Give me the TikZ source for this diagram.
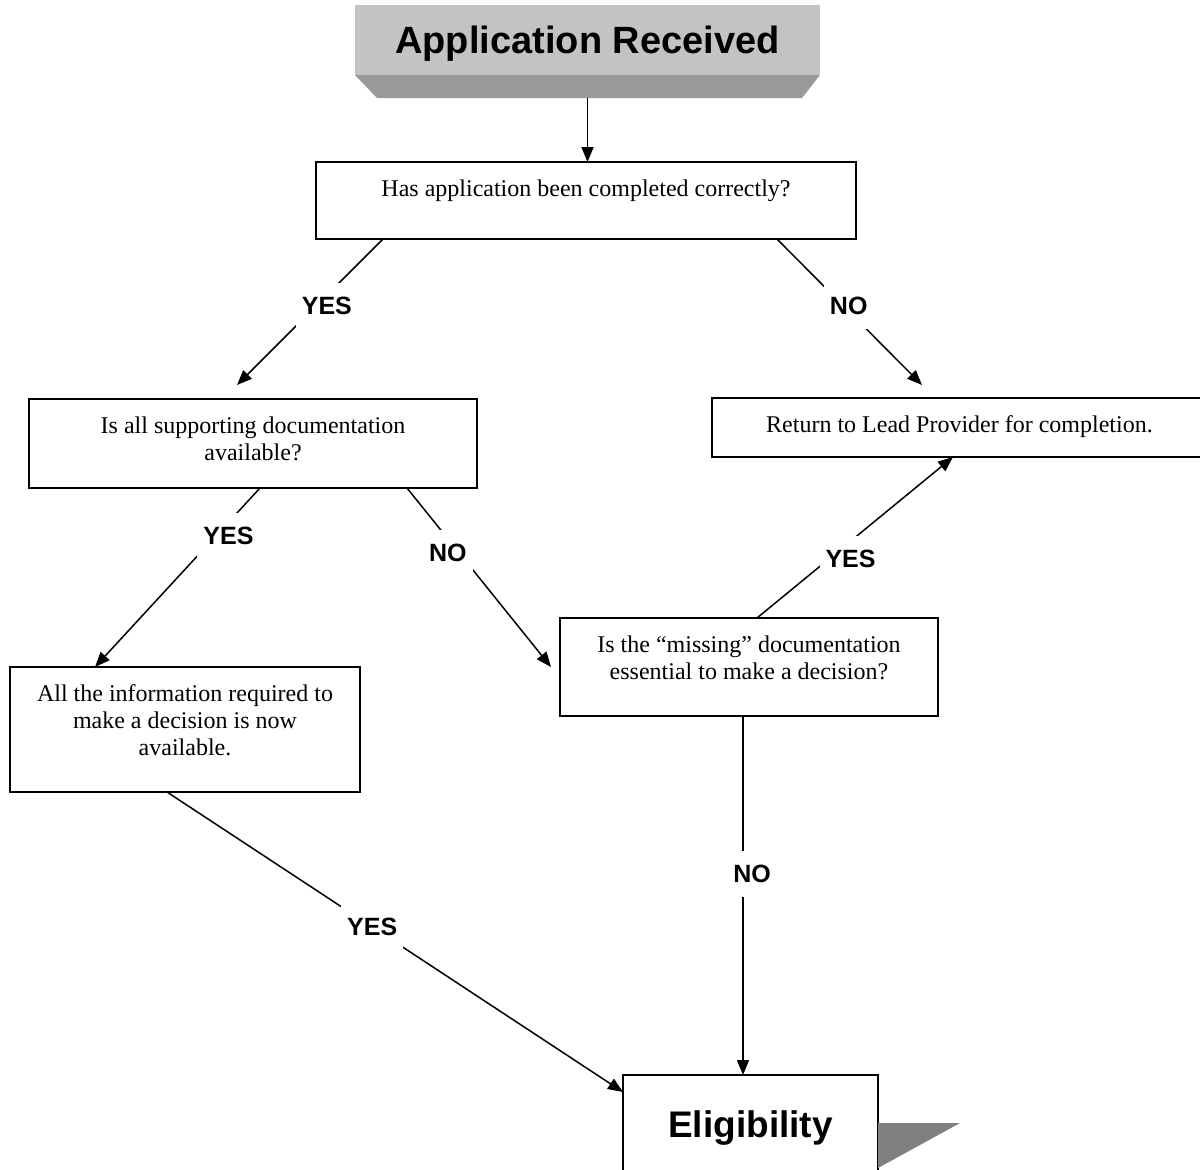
\documentclass[tikz,border=0pt]{standalone}
\usepackage{fontspec}
\setmainfont{Liberation Serif}
\newfontfamily\arialfont{Liberation Sans}
\usetikzlibrary{arrows.meta, positioning}
\definecolor{faceGray}{RGB}{195,195,195}
\definecolor{bevelGray}{RGB}{153,153,153}
\definecolor{shadowGray}{RGB}{128,128,128}
\newcommand{\padtop}[1]{\rule{0pt}{#1}}
\newcommand{\padbot}[1]{\rule[-#1]{0pt}{#1}}

\begin{document}
\begin{tikzpicture}[x=0.5pt, y=-0.5pt,
  qbox/.style={draw, line width=1pt, anchor=north west, align=center, inner xsep=4pt, inner ysep=0pt, outer sep=0pt, font=\fontsize{12}{13.5}\selectfont},
  bigbox/.style={anchor=north west, inner sep=0pt, outer sep=0pt, font=\arialfont\bfseries\fontsize{19}{22}\selectfont},
  lbl/.style={fill=white, inner xsep=3pt, inner ysep=7pt, font=\arialfont\bfseries\fontsize{12.5}{14}\selectfont},
  arr/.style={-{Triangle[length=7.5pt,width=6pt]}, line width=0.75pt}]
\useasboundingbox (0,0) rectangle (1200,1169);

\node[bigbox, fill=faceGray, minimum width=232.5pt] (recv) at (355,5) {\padtop{24pt}Application Received\padbot{11pt}};
\fill[bevelGray] (recv.south west) -- (recv.south east) -- ++(-18,23) -- ++(-425,0) -- cycle;

\node[qbox, minimum width=270pt] (q1) at (316,162) {\padtop{17pt}Has application been completed correctly?\padbot{21.5pt}};
\node[qbox, minimum width=224pt] (q2) at (29,399) {\padtop{17pt}Is all supporting documentation\\ available?\padbot{14pt}};
\node[qbox, minimum width=247.5pt] (q3) at (712,398) {\padtop{17pt}Return to Lead Provider for completion.\padbot{12.5pt}};
\node[qbox, minimum width=175pt] (q4) at (10,667) {\padtop{17pt}All the information required to\\ make a decision is now\\ available.\padbot{18.5pt}};
\node[qbox, minimum width=189pt] (q5) at (560,618) {\padtop{17pt}Is the “missing” documentation\\ essential to make a decision?\padbot{18.5pt}};

\node[bigbox, draw, line width=1pt, fill=white, minimum width=127.5pt, font=\arialfont\bfseries\fontsize{18.5}{22}\selectfont] (elig) at (623,1075) {\padtop{31pt}Eligibility\padbot{25pt}};
\fill[shadowGray] ([yshift=-24pt]elig.north east) -- ++(82,0) -- ++(-82,45) -- cycle;

\draw[arr] ([yshift=-11.5pt]recv.south) -- (recv.south |- q1.north);
\draw[arr] ([xshift=33.5pt]q1.south west) -- node[lbl, pos=0.46, xshift=5.5pt] {YES} ([xshift=104pt, yshift=7pt]q2.north west);
\draw[arr] ([xshift=230.5pt]q1.south west) -- node[lbl, pos=0.46, xshift=2.5pt] {NO} ([xshift=105pt, yshift=6.5pt]q3.north west);
\draw[arr] ([xshift=115.5pt]q2.south west) -- node[lbl, pos=0.27, xshift=6.5pt] {YES} ([xshift=42.5pt]q4.north west);
\draw[arr] ([xshift=189pt]q2.south west) -- node[lbl, pos=0.36, xshift=-5.5pt] {NO} ([xshift=-4.5pt]q5.west);
\draw[arr] ([xshift=98.5pt]q5.north west) -- node[lbl, pos=0.37, xshift=10.5pt] {YES} ([xshift=120.5pt]q3.south west);
\draw[arr] ([xshift=91.5pt]q5.south west) -- node[lbl, pos=0.44, xshift=4.5pt] {NO} ([xshift=60pt]elig.north west);
\draw[arr] ([xshift=78.5pt]q4.south west) -- node[lbl, pos=0.45] {YES} ([yshift=-8.5pt]elig.north west);
\end{tikzpicture}
\end{document}
